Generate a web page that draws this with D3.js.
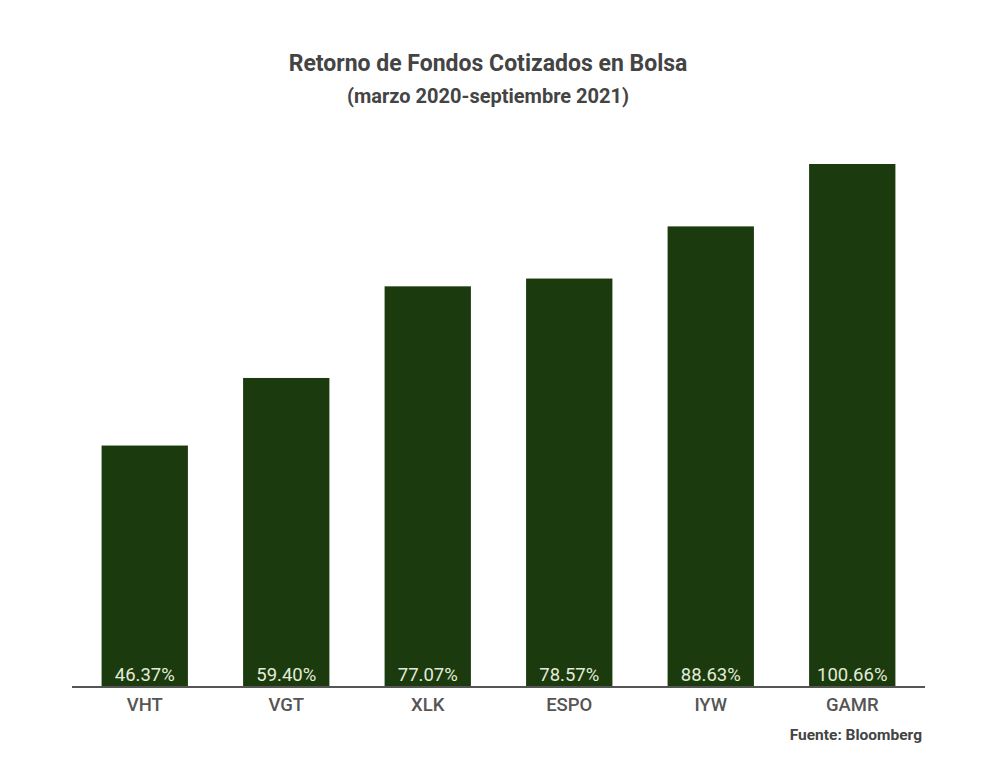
<!DOCTYPE html>
<html>
<head>
    <title>Retorno de Fondos Cotizados en Bolsa</title>
    <script src="https://cdnjs.cloudflare.com/ajax/libs/d3/7.8.5/d3.min.js"></script>
    <style>
        body { margin: 0; background: #fff; }
        svg { font-family: Roboto, "Noto Sans", sans-serif; }
        .bar { fill: #1b3a0d; }
        .value-label { fill: #e2ecd9; font-size: 18.5px; }
        .cat-label { fill: #555; font-size: 18.5px; font-weight: 500; }
        .title { fill: #444; font-size: 23px; font-weight: bold; }
        .subtitle { fill: #444; font-size: 20px; font-weight: bold; }
        .source { fill: #444; font-size: 15.5px; font-weight: bold; }
        .baseline { stroke: #555; stroke-width: 2; }
    </style>
</head>
<body>
    <div id="chart"></div>
    <script>
        const tickers = ['VHT', 'VGT', 'XLK', 'ESPO', 'IYW', 'GAMR'];
        const returns = [46.37, 59.40, 77.07, 78.57, 88.63, 100.66];

        const width = 1000;
        const height = 757;
        const baseY = 686;

        const svg = d3.select('#chart')
            .append('svg')
            .attr('width', width)
            .attr('height', height);

        const x = d3.scaleBand()
            .domain(tickers)
            .range([74, 923])
            .paddingInner(0.39)
            .paddingOuter(0.195);

        const y = d3.scaleLinear()
            .domain([0, 100.66])
            .range([baseY, 164]);

        const rows = tickers.map((t, i) => ({ ticker: t, value: returns[i] }));

        // bars
        svg.selectAll('.bar')
            .data(rows)
            .enter()
            .append('rect')
            .attr('class', 'bar')
            .attr('x', d => x(d.ticker))
            .attr('y', d => y(d.value))
            .attr('width', x.bandwidth())
            .attr('height', d => baseY - y(d.value));

        // values inside bars, at the bottom
        svg.selectAll('.value-label')
            .data(rows)
            .enter()
            .append('text')
            .attr('class', 'value-label')
            .attr('x', d => x(d.ticker) + x.bandwidth() / 2)
            .attr('y', baseY - 5)
            .attr('text-anchor', 'middle')
            .text(d => d.value.toFixed(2) + '%');

        // baseline
        svg.append('line')
            .attr('class', 'baseline')
            .attr('x1', 72)
            .attr('x2', 925)
            .attr('y1', baseY + 1)
            .attr('y2', baseY + 1);

        // category labels
        svg.selectAll('.cat-label')
            .data(tickers)
            .enter()
            .append('text')
            .attr('class', 'cat-label')
            .attr('x', d => x(d) + x.bandwidth() / 2)
            .attr('y', 711)
            .attr('text-anchor', 'middle')
            .text(d => d);

        svg.append('text')
            .attr('class', 'title')
            .attr('x', 488)
            .attr('y', 71)
            .attr('text-anchor', 'middle')
            .text('Retorno de Fondos Cotizados en Bolsa');

        svg.append('text')
            .attr('class', 'subtitle')
            .attr('x', 488)
            .attr('y', 103)
            .attr('text-anchor', 'middle')
            .text('(marzo 2020-septiembre 2021)');

        svg.append('text')
            .attr('class', 'source')
            .attr('x', 922)
            .attr('y', 740)
            .attr('text-anchor', 'end')
            .text('Fuente: Bloomberg');
    </script>
</body>
</html>
